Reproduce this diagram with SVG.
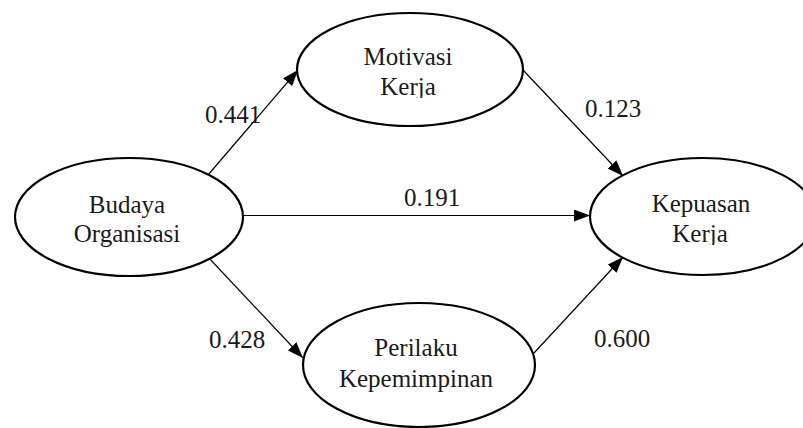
<svg xmlns="http://www.w3.org/2000/svg" width="803" height="428" viewBox="0 0 803 428">
<style>
.n{fill:#fff;stroke:#000;stroke-width:2.2}
.t{font-family:'Liberation Serif',Tinos,'Times New Roman',Times,'Noto Serif','DejaVu Serif',serif;font-size:25px;fill:#1a1a1a;text-anchor:middle}
.c{stroke:#000;stroke-width:1.2;fill:none;marker-end:url(#ah)}
</style>
<defs>
<marker id="ah" viewBox="0 0 16 12" refX="16" refY="6" markerWidth="16" markerHeight="12" markerUnits="userSpaceOnUse" orient="auto">
<path d="M0,0 L16,6 L0,12 Z" fill="#000"/>
</marker>
<clipPath id="clipK1" clipPathUnits="userSpaceOnUse"><rect x="340" y="70" width="140" height="28"/></clipPath>
<clipPath id="clipK2" clipPathUnits="userSpaceOnUse"><rect x="640" y="218" width="130" height="27"/></clipPath>
</defs>
<rect width="803" height="428" fill="#fff"/>
<g id="connectors">
<line class="c" x1="208" y1="175" x2="298" y2="70"/>
<line class="c" x1="243" y1="215.5" x2="590" y2="215.5"/>
<line class="c" x1="208" y1="257" x2="303" y2="358"/>
<line class="c" x1="523" y1="70" x2="623" y2="176"/>
<line class="c" x1="534" y1="353" x2="623" y2="257"/>
<text class="t" x="233" y="123">0.441</text>
<text class="t" x="432" y="206">0.191</text>
<text class="t" x="237" y="348">0.428</text>
<text class="t" x="613" y="117">0.123</text>
<text class="t" x="622" y="347">0.600</text>
</g>
<g id="budaya">
<ellipse class="n" cx="129" cy="217" rx="114" ry="59"/>
<text class="t" x="127" y="213">Budaya</text>
<text class="t" x="127" y="242">Organisasi</text>
</g>
<g id="motivasi">
<ellipse class="n" cx="410" cy="69.5" rx="113" ry="56.5"/>
<text class="t" x="408" y="65">Motivasi</text>
<g clip-path="url(#clipK1)"><text class="t" x="408" y="95">Kerja</text></g>
</g>
<g id="perilaku">
<ellipse class="n" cx="419" cy="365" rx="116" ry="62"/>
<text class="t" x="416" y="356">Perilaku</text>
<text class="t" x="416" y="387">Kepemimpinan</text>
</g>
<g id="kepuasan">
<ellipse class="n" cx="703" cy="216.5" rx="113" ry="58.5"/>
<text class="t" x="701" y="212">Kepuasan</text>
<g clip-path="url(#clipK2)"><text class="t" x="700" y="242">Kerja</text></g>
</g>
</svg>
